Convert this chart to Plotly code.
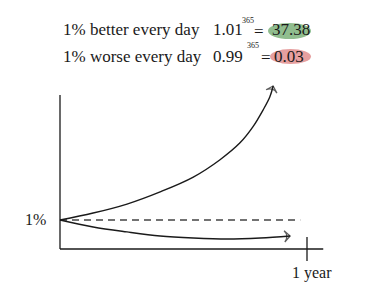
import plotly.graph_objects as go

W, H = 387, 295

# ---- data ----
# x in days, y in relative level (1 = start level "1%")
better_days = [0, 49, 99, 148, 197, 236, 266, 285, 300, 310, 315]
better_vals = [1.0, 1.24, 1.55, 1.97, 2.48, 3.07, 3.66, 4.21, 4.79, 5.24, 5.62]
worse_days = [0, 49, 99, 148, 197, 247, 296, 340]
worse_vals = [1.0, 0.76, 0.59, 0.45, 0.38, 0.345, 0.38, 0.45]
baseline_days = [0, 355]
baseline_vals = [1.0, 1.0]
year_tick = [365]
axis_x_end = 389
axis_y_end = 5.31

# ---- scale mapping (layout) ----
x0_px, px_per_day = 60, (307 - 60) / 365
y0_px, px_per_unit = 249, 29
x_range = [-x0_px / px_per_day, (W - x0_px) / px_per_day]
y_range = [(y0_px - H) / px_per_unit, y0_px / px_per_unit]

ink = "#1a1a1a"
serif = "Liberation Serif"

def arrow_sizes(n, s):
    return [0] * (n - 1) + [s]

fig = go.Figure()
fig.add_trace(go.Scatter(
    x=baseline_days, y=baseline_vals, mode="lines",
    line=dict(color="#444444", width=1.6, dash="7px,5px"), hoverinfo="skip"))
for xs, ys in [(better_days, better_vals), (worse_days, worse_vals)]:
    fig.add_trace(go.Scatter(
        x=xs, y=ys, mode="lines+markers",
        line=dict(color=ink, width=1.4, shape="spline", smoothing=1.0),
        marker=dict(symbol="arrow-wide-open", size=arrow_sizes(len(xs), 8),
                    angleref="previous", color=ink, line=dict(color=ink, width=1.3)),
        hoverinfo="skip"))
fig.add_trace(go.Scatter(
    x=year_tick, y=[0], mode="markers",
    marker=dict(symbol="line-ns", size=17, line=dict(color=ink, width=1.3)),
    hoverinfo="skip"))

shapes = [
    dict(type="line", xref="x", yref="y", x0=0, y0=0, x1=0, y1=axis_y_end,
         line=dict(color=ink, width=1.3)),
    dict(type="line", xref="x", yref="y", x0=0, y0=0, x1=axis_x_end, y1=0,
         line=dict(color=ink, width=1.3)),
]

def px(x):
    return x / W

def py(y):
    return 1 - y / H

# highlight blobs
shapes.append(dict(type="circle", xref="paper", yref="paper", layer="below",
                   x0=px(268), x1=px(311), y0=py(23), y1=py(39),
                   fillcolor="rgba(125,178,122,0.85)", line=dict(width=0)))
shapes.append(dict(type="circle", xref="paper", yref="paper", layer="below",
                   x0=px(270), x1=px(311), y0=py(49), y1=py(64),
                   fillcolor="rgba(226,142,142,0.85)", line=dict(width=0)))

annotations = []

def txt(text, x, y, size=17, xanchor="left"):
    annotations.append(dict(text=text, x=px(x), y=py(y), xref="paper", yref="paper",
                            xanchor=xanchor, yanchor="middle", showarrow=False,
                            font=dict(family=serif, size=size, color=ink)))

txt("1% better every day", 61, 30)
txt("1.01", 211, 30)
txt("365", 240, 20, size=8)
txt("=", 252, 31)
txt("37.38", 270, 30)
txt("1% worse every day", 61, 56)
txt("0.99", 211, 56)
txt("365", 245, 45, size=8)
txt("=", 259, 57)
txt("0.03", 272, 56)
txt("1%", 48, 219, size=16, xanchor="right")
txt("1 year", 290, 273, size=16)

fig.update_layout(
    width=W, height=H, margin=dict(l=0, r=0, t=0, b=0),
    paper_bgcolor="white", plot_bgcolor="white", showlegend=False,
    xaxis=dict(range=x_range, visible=False, fixedrange=True),
    yaxis=dict(range=y_range, visible=False, fixedrange=True),
    shapes=shapes, annotations=annotations,
)
fig.write_html("out.html")
